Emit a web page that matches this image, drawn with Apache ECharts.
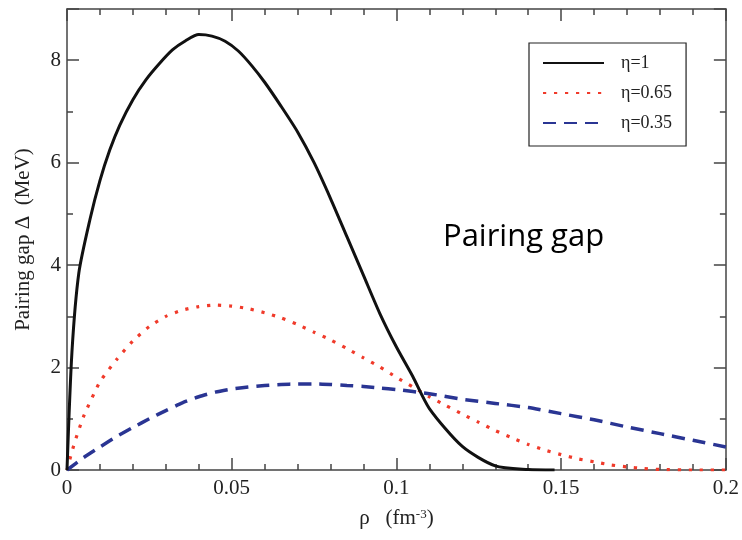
<!DOCTYPE html>
<html>
<head>
<meta charset="utf-8">
<script src="https://cdn.jsdelivr.net/npm/echarts@6/dist/echarts.min.js"></script>
<style>
  html, body { margin: 0; padding: 0; background: #fff; }
  #chart { width: 742px; height: 540px; }
</style>
</head>
<body>
<div id="chart"></div>
<script>
// eta = 1 (solid black)
const rho1 = [0, 0.0015, 0.0036, 0.007, 0.01, 0.013, 0.016, 0.02, 0.024, 0.028, 0.032, 0.036, 0.04, 0.044, 0.048,
  0.052, 0.056, 0.06, 0.065, 0.07, 0.075, 0.08, 0.085, 0.09, 0.095, 0.1, 0.105, 0.11, 0.12, 0.13, 0.14, 0.148];
const gap1 = [0, 2.3, 3.85, 4.9, 5.65, 6.25, 6.73, 7.23, 7.62, 7.93, 8.2, 8.38, 8.5, 8.47, 8.37,
  8.18, 7.9, 7.57, 7.1, 6.6, 6.0, 5.3, 4.55, 3.8, 3.05, 2.4, 1.82, 1.2, 0.46, 0.08, 0.01, 0];

// eta = 0.65 (red dotted)
const rho2 = [0, 0.002, 0.005, 0.01, 0.015, 0.02, 0.025, 0.03, 0.035, 0.04, 0.045, 0.05, 0.055, 0.06, 0.065,
  0.07, 0.075, 0.08, 0.085, 0.09, 0.095, 0.1, 0.105, 0.11, 0.115, 0.12, 0.125, 0.13, 0.135, 0.14, 0.145,
  0.15, 0.155, 0.16, 0.165, 0.17, 0.175, 0.18, 0.19, 0.2];
const gap2 = [0, 0.47, 1.04, 1.72, 2.15, 2.52, 2.8, 3.0, 3.12, 3.19, 3.22, 3.2, 3.15, 3.07, 2.97,
  2.84, 2.69, 2.54, 2.37, 2.19, 2.01, 1.81, 1.62, 1.43, 1.26, 1.09, 0.93, 0.77, 0.63, 0.5, 0.39,
  0.3, 0.22, 0.16, 0.1, 0.06, 0.03, 0.01, 0, 0];

// eta = 0.35 (blue dashed)
const rho3 = [0, 0.005, 0.01, 0.015, 0.02, 0.025, 0.03, 0.035, 0.04, 0.045, 0.05, 0.055, 0.06, 0.065, 0.07,
  0.075, 0.08, 0.085, 0.09, 0.095, 0.1, 0.11, 0.12, 0.13, 0.14, 0.15, 0.16, 0.17, 0.18, 0.19, 0.2];
const gap3 = [0, 0.24, 0.45, 0.65, 0.83, 1.0, 1.16, 1.31, 1.43, 1.52, 1.58, 1.62, 1.65, 1.67, 1.68,
  1.68, 1.67, 1.65, 1.63, 1.6, 1.57, 1.49, 1.38, 1.3, 1.22, 1.1, 0.98, 0.84, 0.71, 0.58, 0.45];

const seriesNames = ['η=1', 'η=0.65', 'η=0.35'];

function pairs(xs, ys) {
  return xs.map((x, i) => [x, ys[i]]);
}

const serif = 'Liberation Serif';
const frame = '#444';

const baseAxis = {
  type: 'value',
  axisLine: { show: true, onZero: false, lineStyle: { color: frame, width: 1.5 } },
  axisTick: { show: true, inside: true, length: 12, lineStyle: { color: frame, width: 1.5 } },
  minorTick: { show: true, length: 6, lineStyle: { color: frame, width: 1.5 } },
  splitLine: { show: false },
  minorSplitLine: { show: false }
};

const xRange = { min: 0, max: 0.2, interval: 0.05 };
const yRange = { min: 0, max: 9, interval: 2 };

const chart = echarts.init(document.getElementById('chart'));
chart.setOption({
  backgroundColor: '#fff',
  animation: false,
  grid: { left: 67, right: 16, top: 9, bottom: 70 },
  legend: {
    orient: 'vertical',
    left: 529,
    top: 43,
    data: seriesNames,
    itemWidth: 61,
    itemHeight: 18,
    itemGap: 12,
    padding: [11, 14, 14, 13],
    borderColor: '#222',
    borderWidth: 1.2,
    itemStyle: { opacity: 0 },
    textStyle: { fontFamily: serif, fontSize: 18, lineHeight: 18, color: '#222', padding: [0, 0, 0, 12] }
  },
  xAxis: [
    Object.assign({}, baseAxis, xRange, {
      position: 'bottom',
      name: 'ρ   (fm{sup|-3})',
      nameLocation: 'middle',
      nameGap: 38,
      nameTextStyle: {
        fontFamily: serif, fontSize: 21, color: '#222',
        rich: { sup: { fontFamily: serif, fontSize: 13, color: '#222', verticalAlign: 'top', lineHeight: 12 } }
      },
      minorTick: Object.assign({}, baseAxis.minorTick, { splitNumber: 5 }),
      axisLabel: {
        fontFamily: serif, fontSize: 21, color: '#222', margin: 8,
        formatter: (v) => String(+v.toFixed(2))
      }
    }),
    Object.assign({}, baseAxis, xRange, {
      position: 'top',
      minorTick: Object.assign({}, baseAxis.minorTick, { splitNumber: 5 }),
      axisLabel: { show: false }
    })
  ],
  yAxis: [
    Object.assign({}, baseAxis, yRange, {
      position: 'left',
      name: 'Pairing gap Δ  (MeV)',
      nameLocation: 'middle',
      nameGap: 33,
      nameTextStyle: { fontFamily: serif, fontSize: 21, color: '#222' },
      minorTick: Object.assign({}, baseAxis.minorTick, { splitNumber: 2 }),
      axisLabel: { fontFamily: serif, fontSize: 21, color: '#222', margin: 6, showMaxLabel: false }
    }),
    Object.assign({}, baseAxis, yRange, {
      position: 'right',
      minorTick: Object.assign({}, baseAxis.minorTick, { splitNumber: 2 }),
      axisLabel: { show: false }
    })
  ],
  graphic: [
    {
      type: 'text',
      left: 443,
      top: 222,
      style: { text: 'Pairing gap', font: '31px "Open Sans"', fill: '#000' }
    }
  ],
  series: [
    {
      name: seriesNames[0], type: 'line', showSymbol: false, symbol: 'none',
      smooth: 0.25,
      data: pairs(rho1, gap1),
      lineStyle: { color: '#111', width: 3 },
      itemStyle: { color: '#111' },
      z: 3
    },
    {
      name: seriesNames[1], type: 'line', showSymbol: false, symbol: 'none', smooth: 0.2,
      data: pairs(rho2, gap2),
      lineStyle: { color: '#f03a2a', width: 3.2, type: [3.2, 7.8] },
      itemStyle: { color: '#f03a2a' },
      z: 2
    },
    {
      name: seriesNames[2], type: 'line', showSymbol: false, symbol: 'none', smooth: 0.2,
      data: pairs(rho3, gap3),
      lineStyle: { color: '#2a3593', width: 3.5, type: [13, 8] },
      itemStyle: { color: '#2a3593' },
      z: 2
    }
  ]
});
</script>
</body>
</html>
